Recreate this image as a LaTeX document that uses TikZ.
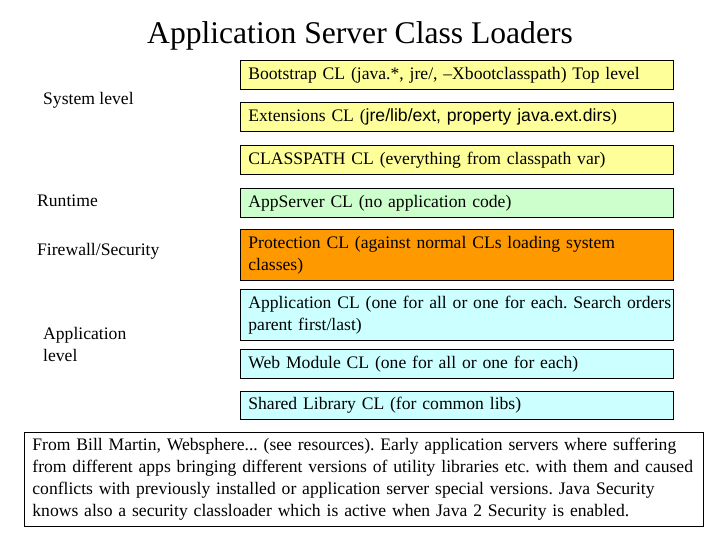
\documentclass[tikz,border=0pt]{standalone}
\usepackage{fontspec}
\setmainfont{Liberation Serif}
\newfontfamily\arialfont{Liberation Sans}
\usetikzlibrary{positioning}
\definecolor{PaleYellow}{RGB}{255,255,153}
\definecolor{PaleGreen}{RGB}{204,255,204}
\definecolor{DeepOrange}{RGB}{255,153,0}
\definecolor{PaleCyan}{RGB}{204,255,255}
\tikzset{
  loader/.style={draw=black,line width=0.8pt,minimum width=433pt,
    minimum height=29pt,text width=417pt,inner xsep=8pt,inner ysep=2pt,
    align=left,font=\fontsize{17.6}{22}\selectfont\frenchspacing},
  sysbox/.style={loader,fill=PaleYellow},
  runbox/.style={loader,fill=PaleGreen},
  guardbox/.style={loader,fill=DeepOrange,minimum height=51pt},
  appbox/.style={loader,fill=PaleCyan},
  levellabel/.style={anchor=base west,inner sep=0pt,align=left,
    font=\fontsize{17.6}{22}\selectfont},
  note/.style={draw=black,line width=0.8pt,anchor=north west,
    minimum width=679pt,minimum height=93pt,text width=663pt,
    inner xsep=8pt,inner ysep=6pt,align=left,
    font=\fontsize{17.6}{22}\selectfont\frenchspacing}
}
\begin{document}
\begin{tikzpicture}[x=1pt,y=-1pt]
  \useasboundingbox (0,0) rectangle (720,540);
  \node[anchor=base,inner sep=0pt,font=\fontsize{31.6}{36}\selectfont]
    (title) at (360,44) {Application Server Class Loaders};

  % class loader chain, top to bottom
  \node[sysbox,anchor=north west] (boot) at (240,60)
    {Bootstrap CL (java.*, jre/, --Xbootclasspath) Top level};
  \node[sysbox,below=12.2pt of boot] (ext)
    {Extensions CL ({\arialfont jre/lib/ext, property java.ext.dirs})};
  \node[sysbox,below=13.2pt of ext] (cpath)
    {CLASSPATH CL (everything from classpath var)};
  \node[runbox,below=13.2pt of cpath] (appsrv)
    {AppServer CL (no application code)};
  \node[guardbox,below=11.2pt of appsrv] (protect)
    {\mbox{Protection CL (against normal CLs loading system}\\classes)};
  \node[appbox,minimum height=51pt,below=8.2pt of protect] (appcl)
    {\mbox{Application CL (one for all or one for each. Search orders}\\parent first/last)};
  \node[appbox,below=8.2pt of appcl] (webmod)
    {Web Module CL (one for all or one for each)};
  \node[appbox,minimum height=28pt,below=12.2pt of webmod] (shared)
    {Shared Library CL (for common libs)};

  % level labels
  \node[levellabel] (syslvl) at (43,105) {System level};
  \node[levellabel] (runlvl) at (37,207) {Runtime};
  \node[levellabel] (fwlvl) at (37,255) {Firewall/Security};
  \node[levellabel] (applvl) at (43,361) {Application\\level};

  \node[note] (source) at (24,432)
    {From Bill Martin, Websphere... (see resources). Early application servers where suffering\\
     from different apps bringing different versions of utility libraries etc. with them and caused\\
     conflicts with previously installed or application server special versions. Java Security\\
     knows also a security classloader which is active when Java 2 Security is enabled.};
\end{tikzpicture}
\end{document}
